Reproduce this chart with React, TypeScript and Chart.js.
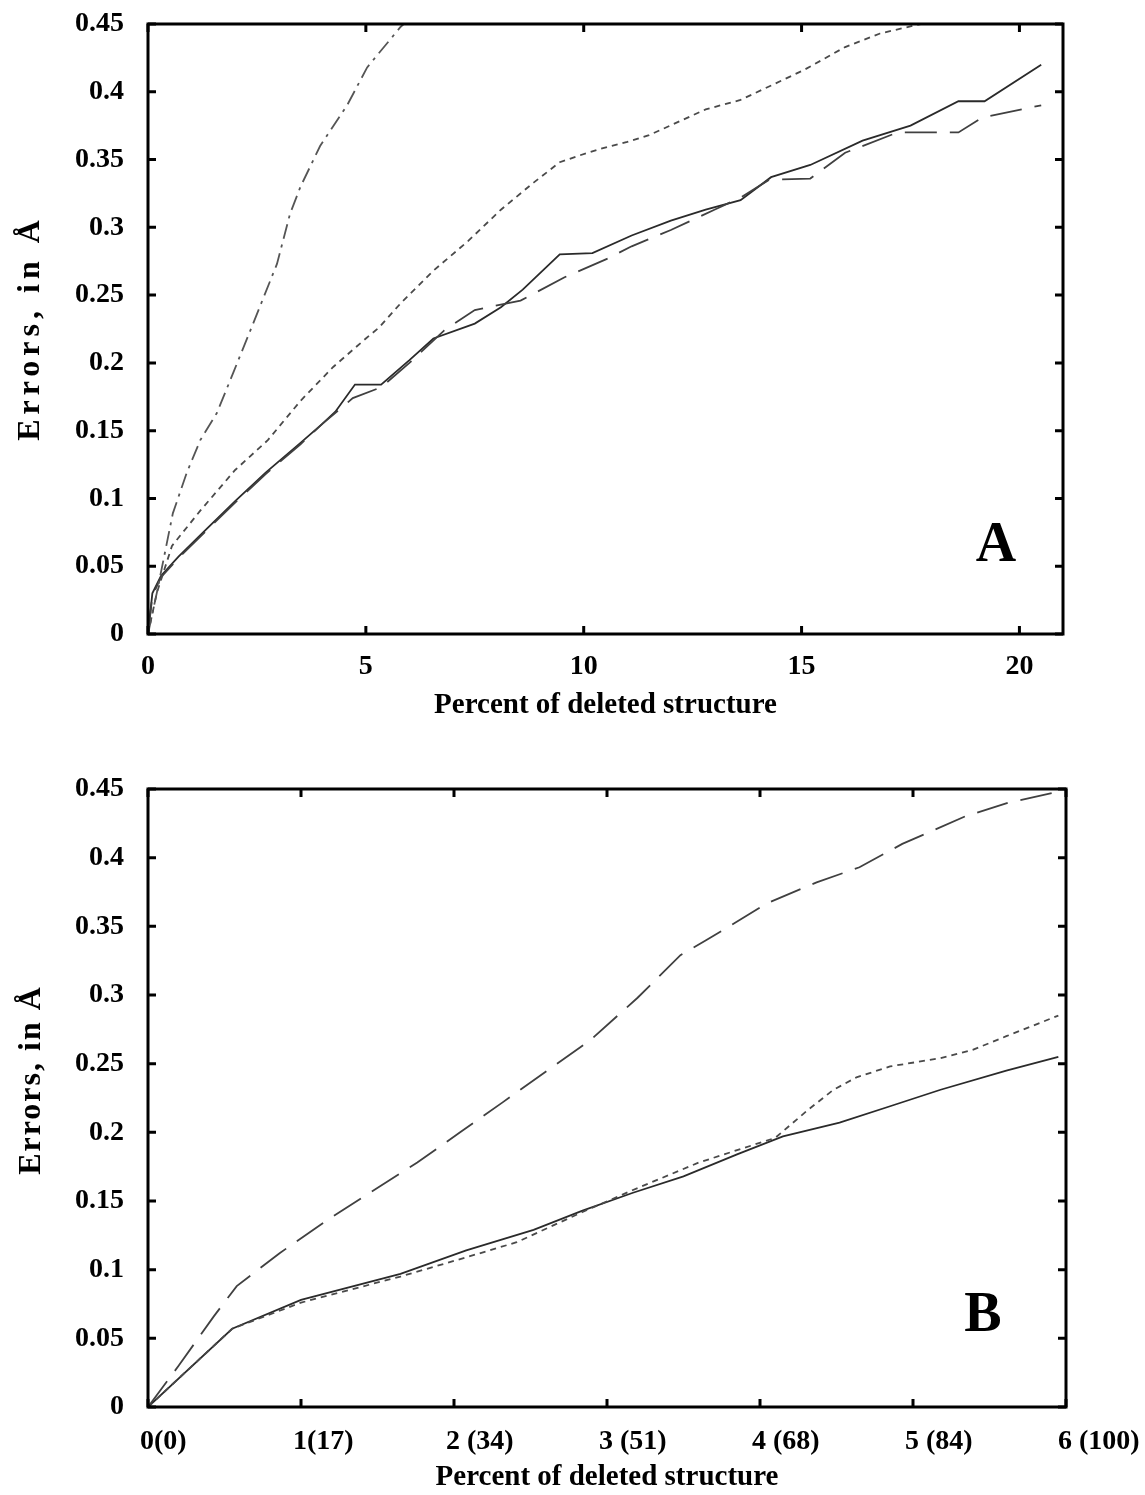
import React, { useEffect, useRef } from "react";
import { Chart, registerables } from "chart.js";

Chart.register(...registerables);

const FONT = '"Liberation Serif", "Times New Roman", serif';

// ---------- shared ----------
const Y_TICKS = [0, 0.05, 0.1, 0.15, 0.2, 0.25, 0.3, 0.35, 0.4, 0.45];
const Y_TITLE = "Errors, in Å";
const X_TITLE = "Percent of deleted structure";

// ---------- panel A ----------
const A_X_TICKS = [0, 5, 10, 15, 20];

const A_SOLID_X = [0, 0.1, 0.3, 0.7, 1.3, 2.0, 2.7, 3.5, 4.0, 4.3, 4.75, 5.35, 6.0, 6.55, 7.5, 8.1, 8.6, 9.45, 10.2, 11.1, 12.0, 12.8, 13.6, 14.3, 15.2, 16.4, 17.5, 18.6, 19.2, 20.5];
const A_SOLID_Y = [0, 0.03, 0.043, 0.057, 0.076, 0.098, 0.119, 0.141, 0.155, 0.164, 0.184, 0.184, 0.202, 0.218, 0.229, 0.241, 0.254, 0.28, 0.281, 0.294, 0.305, 0.313, 0.32, 0.337, 0.346, 0.364, 0.375, 0.393, 0.393, 0.42];

const A_DASH_X = [0, 0.1, 0.3, 0.7, 1.3, 2.0, 2.7, 3.5, 4.0, 4.7, 5.35, 6.0, 6.8, 7.5, 7.8, 8.55, 8.85, 9.55, 10.55, 11.1, 12.0, 13.0, 13.6, 14.25, 15.2, 16.0, 17.2, 18.6, 19.15, 20.5];
const A_DASH_Y = [0, 0.028, 0.042, 0.056, 0.075, 0.097, 0.118, 0.14, 0.155, 0.174, 0.182, 0.2, 0.224, 0.239, 0.241, 0.246, 0.251, 0.263, 0.277, 0.286, 0.298, 0.313, 0.322, 0.335, 0.336, 0.355, 0.37, 0.37, 0.381, 0.39];

const A_DOT_X = [0, 0.2, 0.55, 1.2, 2.0, 2.75, 3.5, 4.25, 5.0, 5.3, 5.8, 6.55, 7.35, 8.1, 8.85, 9.45, 9.9, 10.4, 11.0, 11.5, 12.8, 13.6, 15.05, 16.0, 16.8, 17.6, 18.5];
const A_DOT_Y = [0, 0.03, 0.065, 0.091, 0.121, 0.143, 0.172, 0.197, 0.218, 0.226, 0.244, 0.268, 0.29, 0.313, 0.333, 0.348, 0.353, 0.358, 0.363, 0.368, 0.387, 0.394, 0.416, 0.433, 0.443, 0.449, 0.455];

const A_DASHDOT_X = [0, 0.2, 0.57, 0.89, 1.2, 1.58, 1.96, 2.35, 2.96, 3.26, 3.5, 3.95, 4.57, 5.03, 5.8, 6.3];
const A_DASHDOT_Y = [0, 0.03, 0.089, 0.119, 0.143, 0.163, 0.193, 0.224, 0.273, 0.31, 0.33, 0.36, 0.39, 0.418, 0.448, 0.462];

// ---------- panel B ----------
const B_X_TICKS = [0, 1, 2, 3, 4, 5, 6];
const B_X_LABELS = ["0(0)", "1(17)", "2 (34)", "3 (51)", "4 (68)", "5 (84)", "6 (100)"];

const B_SOLID_X = [0, 0.55, 1.0, 1.65, 2.08, 2.52, 2.84, 3.17, 3.5, 3.85, 4.15, 4.52, 4.85, 5.18, 5.61, 5.95];
const B_SOLID_Y = [0, 0.057, 0.078, 0.097, 0.114, 0.129, 0.143, 0.156, 0.168, 0.184, 0.197, 0.207, 0.219, 0.231, 0.245, 0.255];

const B_DOT_X = [0, 0.55, 1.0, 1.65, 2.08, 2.41, 2.84, 3.17, 3.6, 3.85, 4.1, 4.31, 4.48, 4.63, 4.85, 5.18, 5.39, 5.61, 5.95];
const B_DOT_Y = [0, 0.057, 0.076, 0.095, 0.109, 0.12, 0.142, 0.158, 0.178, 0.187, 0.196, 0.216, 0.231, 0.24, 0.248, 0.254, 0.26, 0.27, 0.285];

const B_DASH_X = [0, 0.2, 0.43, 0.58, 0.86, 1.17, 1.45, 1.76, 2.04, 2.32, 2.61, 2.89, 3.2, 3.48, 3.65, 4.05, 4.37, 4.65, 4.93, 5.34, 5.62, 5.95];
const B_DASH_Y = [0, 0.03, 0.066, 0.088, 0.112, 0.136, 0.156, 0.178, 0.2, 0.222, 0.245, 0.267, 0.298, 0.329, 0.34, 0.367, 0.382, 0.393, 0.41, 0.43, 0.44, 0.448];

// ---------- styles ----------
const STYLE_SOLID = { color: "#2a2a2a", dash: [] as number[], width: 1.8 };
const STYLE_DASH = { color: "#404040", dash: [32, 13], width: 1.8 };
const STYLE_DOT = { color: "#4a4a4a", dash: [6, 5], width: 1.8 };
const STYLE_DASHDOT = { color: "#555555", dash: [15, 6, 3, 6], width: 1.8 };

type Series = { xs: number[]; ys: number[]; style: { color: string; dash: number[]; width: number } };

type Panel = {
  series: Series[];
  xMax: number;
  xTicks: number[];
  xLabels: string[] | null;
  xAlign: "center" | "start";
  labelShift: number;
  padTop: number;
  padRight: number;
  xHeight: number;
  xTickPad: number;
  xTitlePad: number;
  letter: string;
  letterX: number;
  letterY: number;
  yTitleX: number;
  yTitleY: number;
  yTitleSpacing: number;
};

const framePlugin = {
  id: "frame",
  beforeDraw(chart: any, _args: any, opts: any) {
    const shift = opts.labelShift || 0;
    if (!shift) return;
    const xs = chart.scales.x;
    const items = xs.getLabelItems(chart.chartArea);
    items.forEach((it: any) => {
      if (!it.__shifted) {
        it.options.translation[0] += shift;
        it.__shifted = true;
      }
    });
  },
  afterDraw(chart: any, _args: any, opts: any) {
    const { ctx, chartArea: a } = chart;
    const xs = chart.scales.x;
    const ys = chart.scales.y;
    ctx.save();
    ctx.strokeStyle = "#000";
    ctx.lineWidth = 3;
    ctx.setLineDash([]);
    ctx.beginPath();
    xs.ticks.forEach((t: any) => {
      const p = xs.getPixelForValue(t.value);
      ctx.moveTo(p, a.bottom);
      ctx.lineTo(p, a.bottom - 8);
      ctx.moveTo(p, a.top);
      ctx.lineTo(p, a.top + 8);
    });
    ys.ticks.forEach((t: any) => {
      const p = ys.getPixelForValue(t.value);
      ctx.moveTo(a.left, p);
      ctx.lineTo(a.left + 8, p);
      ctx.moveTo(a.right, p);
      ctx.lineTo(a.right - 8, p);
    });
    ctx.stroke();
    ctx.strokeRect(a.left, a.top, a.right - a.left, a.bottom - a.top);

    // y title
    ctx.save();
    ctx.translate(opts.yTitleX, opts.yTitleY);
    ctx.rotate(-Math.PI / 2);
    ctx.fillStyle = "#000";
    ctx.font = `bold 32px ${FONT}`;
    (ctx as any).letterSpacing = `${opts.yTitleSpacing}px`;
    ctx.textAlign = "center";
    ctx.textBaseline = "middle";
    ctx.fillText(Y_TITLE, 0, 0);
    ctx.restore();

    // panel letter
    ctx.fillStyle = "#000";
    ctx.font = `bold 56px ${FONT}`;
    ctx.textAlign = "center";
    ctx.textBaseline = "middle";
    ctx.fillText(opts.letter, opts.letterX, opts.letterY);
    ctx.restore();
  },
};

function buildConfig(p: Panel): any {
  return {
    type: "line",
    data: {
      datasets: p.series.map((s) => ({
        data: s.xs.map((x, i) => ({ x, y: s.ys[i] })),
        borderColor: s.style.color,
        borderWidth: s.style.width,
        borderDash: s.style.dash,
        pointRadius: 0,
        fill: false,
        tension: 0,
      })),
    },
    options: {
      responsive: false,
      animation: false,
      devicePixelRatio: 1,
      layout: { padding: { top: p.padTop, right: p.padRight, left: 0, bottom: 0 } },
      plugins: {
        legend: { display: false },
        tooltip: { enabled: false },
        frame: {
          labelShift: p.labelShift,
          letter: p.letter,
          letterX: p.letterX,
          letterY: p.letterY,
          yTitleX: p.yTitleX,
          yTitleY: p.yTitleY,
          yTitleSpacing: p.yTitleSpacing,
        },
      },
      scales: {
        x: {
          type: "linear",
          min: 0,
          max: p.xMax,
          grid: { display: false },
          border: { display: false },
          afterBuildTicks: (s: any) => {
            s.ticks = p.xTicks.map((v) => ({ value: v }));
          },
          ticks: {
            color: "#000",
            font: { family: FONT, size: 28, weight: "bold" },
            padding: p.xTickPad,
            maxRotation: 0,
            minRotation: 0,
            autoSkip: false,
            align: p.xAlign,
            callback: (v: number, i: number) => (p.xLabels ? p.xLabels[i] : String(v)),
          },
          title: {
            display: true,
            text: X_TITLE,
            color: "#000",
            font: { family: FONT, size: 29, weight: "bold" },
            padding: { top: 0, bottom: p.xTitlePad },
          },
          afterFit: (s: any) => {
            s.height = p.xHeight;
            s.paddingLeft = 0;
            s.paddingRight = 0;
          },
        },
        y: {
          type: "linear",
          min: 0,
          max: 0.45,
          grid: { display: false },
          border: { display: false },
          afterBuildTicks: (s: any) => {
            s.ticks = Y_TICKS.map((v) => ({ value: v }));
          },
          ticks: {
            color: "#000",
            font: { family: FONT, size: 28, weight: "bold" },
            padding: 16,
            autoSkip: false,
            callback: (v: number) => String(Number(Number(v).toFixed(2))),
          },
          afterFit: (s: any) => {
            s.width = 148;
            s.paddingTop = 0;
            s.paddingBottom = 0;
          },
        },
      },
    },
    plugins: [framePlugin],
  };
}

function panelA(): Panel {
  return {
    series: [
      { xs: A_DASHDOT_X, ys: A_DASHDOT_Y, style: STYLE_DASHDOT },
      { xs: A_DOT_X, ys: A_DOT_Y, style: STYLE_DOT },
      { xs: A_DASH_X, ys: A_DASH_Y, style: STYLE_DASH },
      { xs: A_SOLID_X, ys: A_SOLID_Y, style: STYLE_SOLID },
    ],
    xMax: 21,
    xTicks: A_X_TICKS,
    xLabels: null,
    xAlign: "center",
    labelShift: 0,
    padTop: 24,
    padRight: 1145 - 1063,
    xHeight: 745 - 634,
    xTickPad: 8,
    xTitlePad: 22,
    letter: "A",
    letterX: 996,
    letterY: 547,
    yTitleX: 31,
    yTitleY: 328,
    yTitleSpacing: 5,
  };
}

function panelB(): Panel {
  return {
    series: [
      { xs: B_DASH_X, ys: B_DASH_Y, style: STYLE_DASH },
      { xs: B_DOT_X, ys: B_DOT_Y, style: STYLE_DOT },
      { xs: B_SOLID_X, ys: B_SOLID_Y, style: STYLE_SOLID },
    ],
    xMax: 6,
    xTicks: B_X_TICKS,
    xLabels: B_X_LABELS,
    xAlign: "start",
    labelShift: -8,
    padTop: 44,
    padRight: 1145 - 1066,
    xHeight: 88,
    xTickPad: 10,
    xTitlePad: 0,
    letter: "B",
    letterX: 983,
    letterY: 572,
    yTitleX: 32,
    yTitleY: 335,
    yTitleSpacing: 2,
  };
}

export default function App() {
  const refA = useRef<HTMLCanvasElement>(null);
  const refB = useRef<HTMLCanvasElement>(null);

  useEffect(() => {
    const a = new Chart(refA.current as HTMLCanvasElement, buildConfig(panelA()));
    const b = new Chart(refB.current as HTMLCanvasElement, buildConfig(panelB()));
    return () => {
      a.destroy();
      b.destroy();
    };
  }, []);

  return (
    <div style={{ position: "absolute", left: 0, top: 0, width: 1145, height: 1495, background: "#fff" }}>
      <canvas ref={refA} width={1145} height={745} style={{ position: "absolute", left: 0, top: 0 }} />
      <canvas ref={refB} width={1145} height={750} style={{ position: "absolute", left: 0, top: 745 }} />
    </div>
  );
}
